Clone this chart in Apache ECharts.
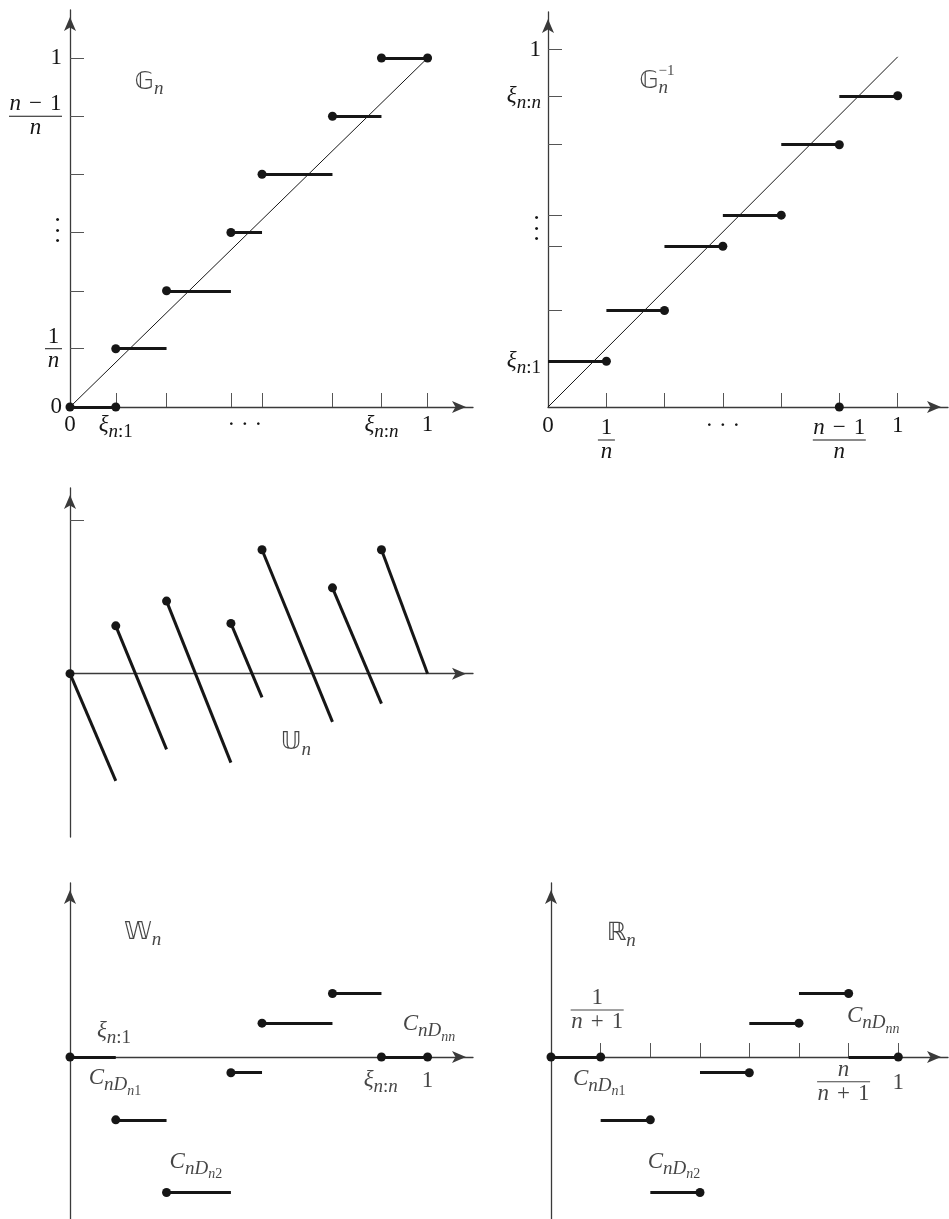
<!DOCTYPE html>
<html>
<head>
<meta charset="utf-8">
<script src="https://cdn.jsdelivr.net/npm/echarts@6/dist/echarts.min.js"></script>
<style>
  html, body { margin: 0; padding: 0; background: #fff; }
  #chart { width: 949px; height: 1219px; }
</style>
</head>
<body>
<div id="chart"></div>
<script>
// n = 6 sample: knots 0, xi_{n:1..n}, 1
const xi = [0, 0.128, 0.270, 0.450, 0.537, 0.734, 0.871, 1];
// grid k/n and k/(n+1)
const kOverN = [0, 0.167, 0.333, 0.5, 0.667, 0.833, 1];
const kOverN1 = [0, 0.143, 0.286, 0.429, 0.571, 0.714, 0.857, 1];
// end of the diagonal in the G_n^{-1} panel
const diag2End = [1, 0.98];
// U_n: value right after each jump, and just before the next knot
const uStart = [0, 0.137, 0.208, 0.144, 0.355, 0.246, 0.355];
const uEnd = [-0.307, -0.217, -0.255, -0.068, -0.138, -0.086, 0];
const uTicks = [0.44];
// W_n and R_n share these step heights
const wLevel = [0, -0.180, -0.388, -0.045, 0.097, 0.182, 0];

// tick label places
const g1XLab = [0, xi[1], 0.489, xi[6], 1];
const g1YLab = [0, kOverN[1], 0.502, kOverN[5], 1];
const g2XLab = [0, kOverN[1], 0.5, kOverN[5], 1];
const g2YLab = [xi[1], 0.496, xi[6], 1];

const F = 'Liberation Serif';
const INK = '#161616';
const AX = '#3a3a3a';

const rich = {
  rm: { fontSize: 23, lineHeight: 16, fontFamily: F, color: INK },
  it: { fontSize: 23, lineHeight: 16, fontFamily: F, fontStyle: 'italic', color: INK },
  si: { fontSize: 19, lineHeight: 16, fontFamily: F, fontStyle: 'italic', color: INK, padding: [14, 0, 0, 0] },
  sr: { fontSize: 19, lineHeight: 16, fontFamily: F, color: INK, padding: [14, 0, 0, 0] },
  ssi: { fontSize: 14, lineHeight: 16, fontFamily: F, fontStyle: 'italic', color: INK, padding: [26, 0, 0, 0] },
  ssr: { fontSize: 14, lineHeight: 16, fontFamily: F, color: INK, padding: [26, 0, 0, 0] },
  sp: { fontSize: 15, lineHeight: 16, fontFamily: F, color: INK },
  bb: { fontSize: 25, lineHeight: 16, fontFamily: 'DejaVu Sans', color: INK },
  fn: { fontSize: 23, lineHeight: 20, fontFamily: F, fontStyle: 'italic', color: INK, align: 'center' },
  fr: { fontSize: 23, lineHeight: 20, fontFamily: F, color: INK, align: 'center' },
  fo: { fontSize: 23, lineHeight: 20, fontFamily: F, color: INK, align: 'center', padding: [0, 8, 0, 8] },
  barS: { width: 17, height: 1, lineHeight: 4, backgroundColor: INK, align: 'center' },
  barL: { width: 53, height: 1, lineHeight: 4, backgroundColor: INK, align: 'center' },
  dt: { fontSize: 26, lineHeight: 10.7, fontFamily: F, color: INK, align: 'center' }
};

const T = {
  zero: '{rm|0}',
  one: '{rm|1}',
  hdots: '{rm|· · ·}',
  vdots: '{dt|·}\n{dt|·}\n{dt|·}',
  xi1: '{it|ξ}{si|n}{sr|:1}',
  xin: '{it|ξ}{si|n}{sr|:}{si|n}',
  f1n: '{fr|1}\n{barS|}\n{fn|n}',
  fn1n: '{fn|n}{fo|−}{fr|1}\n{barL|}\n{fn|n}',
  f1n1: '{fr|1}\n{barL|}\n{fn|n}{fo|+}{fr|1}',
  fnn1: '{fn|n}\n{barL|}\n{fn|n}{fo|+}{fr|1}',
  c1: '{it|C}{si|nD}{ssi|n}{ssr|1}',
  c2: '{it|C}{si|nD}{ssi|n}{ssr|2}',
  cn: '{it|C}{si|nD}{ssi|nn}'
};

function axis(gi, min, max, ticks, labVals, labTxt, margin) {
  return {
    type: 'value', gridIndex: gi, min: min, max: max,
    axisLine: {
      show: true, onZero: true,
      symbol: ['none', 'arrow'], symbolSize: [9, 14], symbolOffset: [0, -7],
      lineStyle: { color: AX, width: 1.3 }
    },
    axisTick: {
      show: ticks.length > 0, inside: true, length: 14,
      customValues: ticks.length ? ticks : undefined,
      lineStyle: { color: '#555', width: 1 }
    },
    axisLabel: labVals ? {
      show: true, customValues: labVals, margin: margin,
      formatter: function (v) {
        let best = 0;
        labVals.forEach(function (u, i) { if (Math.abs(u - v) < Math.abs(labVals[best] - v)) best = i; });
        return labTxt[best];
      },
      rich: rich, color: INK, fontFamily: F, fontSize: 23
    } : { show: false },
    splitLine: { show: false }
  };
}

function segs(gi, list, width) {
  return {
    type: 'lines', coordinateSystem: 'cartesian2d', xAxisIndex: gi, yAxisIndex: gi,
    silent: true, clip: false, z: 2,
    lineStyle: { color: INK, width: width, opacity: 1 },
    data: list.map(function (c) { return { coords: c }; })
  };
}

function dots(gi, pts) {
  return {
    type: 'scatter', xAxisIndex: gi, yAxisIndex: gi, silent: true, clip: false, z: 3,
    symbolSize: 9, itemStyle: { color: INK, opacity: 1 }, data: pts
  };
}

function notes(gi, items) {
  return {
    type: 'scatter', xAxisIndex: gi, yAxisIndex: gi, silent: true, clip: false, z: 4,
    symbolSize: 0,
    label: {
      show: true, position: 'inside', align: 'center', verticalAlign: 'middle',
      rich: rich, color: INK, fontFamily: F, fontSize: 23,
      formatter: function (p) { return p.data.t; }
    },
    data: items.map(function (d) { return { value: [d[0], d[1]], t: d[2] }; })
  };
}

// panel 1: G_n
const g1Steps = [], g1Dots = [];
for (let k = 0; k < 7; k++) {
  g1Steps.push([[xi[k], kOverN[k]], [xi[k + 1], kOverN[k]]]);
  g1Dots.push([xi[k], kOverN[k]]);
}
g1Dots.push([xi[1], 0], [1, 1]);

// panel 2: G_n^{-1}
const g2Steps = [], g2Dots = [];
for (let k = 0; k < 6; k++) {
  g2Steps.push([[kOverN[k], xi[k + 1]], [kOverN[k + 1], xi[k + 1]]]);
  g2Dots.push([kOverN[k + 1], xi[k + 1]]);
}
g2Dots.push([kOverN[5], 0]);

// panel 3: U_n
const uSegs = [], uDots = [];
for (let k = 0; k < 7; k++) {
  uSegs.push([[xi[k], uStart[k]], [xi[k + 1], uEnd[k]]]);
  uDots.push([xi[k], uStart[k]]);
}

// panel 4: W_n, panel 5: R_n
const wSegs = [], wDots = [], rSegs = [], rDots = [[0, 0]];
for (let k = 0; k < 7; k++) {
  wSegs.push([[xi[k], wLevel[k]], [xi[k + 1], wLevel[k]]]);
  wDots.push([xi[k], wLevel[k]]);
  rSegs.push([[kOverN1[k], wLevel[k]], [kOverN1[k + 1], wLevel[k]]]);
  rDots.push([kOverN1[k + 1], wLevel[k]]);
}
wDots.push([1, 0]);

const option = {
  animation: false,
  backgroundColor: '#fff',
  grid: [
    { left: 70, top: 10, width: 403, height: 397 },
    { left: 548, top: 12, width: 400, height: 395 },
    { left: 70, top: 488, width: 403, height: 349 },
    { left: 70, top: 883, width: 403, height: 336 },
    { left: 551, top: 883, width: 397, height: 336 }
  ],
  xAxis: [
    axis(0, 0, 1.127, xi.slice(1), g1XLab, [T.zero, T.xi1, T.hdots, T.xin, T.one], 10),
    axis(1, 0, 1.1438, kOverN.slice(1), g2XLab, [T.zero, T.f1n, T.hdots, T.fn1n, T.one], 11),
    axis(2, 0, 1.127, [], null),
    axis(3, 0, 1.127, [], null),
    axis(4, 0, 1.1431, kOverN1.slice(1), null)
  ],
  yAxis: [
    axis(0, 0, 1.1375, kOverN.slice(1), g1YLab, [T.zero, T.f1n, T.vdots, T.fn1n, T.one], 8),
    axis(1, 0, 1.1055, xi.slice(1), g2YLab, [T.xi1, T.vdots, T.xin, T.one], 7),
    axis(2, -0.468, 0.532, uTicks, null),
    axis(3, -0.464, 0.4986, [], null),
    axis(4, -0.464, 0.4986, [], null)
  ],
  series: [
    segs(0, [[[0, 0], [1, 1]]], 1),
    segs(0, g1Steps, 3),
    dots(0, g1Dots),
    notes(0, [[0.221, 0.93, '{bb|𝔾}{si|n}']]),

    segs(1, [[[0, 0], diag2End]], 1),
    segs(1, g2Steps, 3),
    dots(1, g2Dots),
    notes(1, [[0.302, 0.912, '{bb|𝔾}{si|n}'], [0.339, 0.94, '{sp|−1}']]),

    segs(2, uSegs, 3),
    dots(2, uDots),
    notes(2, [[0.632, -0.198, '{bb|𝕌}{si|n}']]),

    segs(3, wSegs, 3),
    dots(3, wDots),
    notes(3, [
      [0.203, 0.356, '{bb|𝕎}{si|n}'],
      [0.123, 0.075, T.xi1],
      [0.126, -0.06, T.c1],
      [0.352, -0.3, T.c2],
      [0.869, -0.065, T.xin],
      [1.0, -0.069, T.one],
      [1.004, 0.095, T.cn]
    ]),

    segs(4, rSegs, 3),
    dots(4, rDots),
    notes(4, [
      [0.202, 0.353, '{bb|ℝ}{si|n}'],
      [0.133, 0.135, T.f1n1],
      [0.139, -0.062, T.c1],
      [0.354, -0.3, T.c2],
      [0.928, 0.118, T.cn],
      [0.8425, -0.0708, T.fnn1],
      [1.0, -0.0745, T.one]
    ])
  ]
};

const chart = echarts.init(document.getElementById('chart'));
chart.setOption(option);
</script>
</body>
</html>
